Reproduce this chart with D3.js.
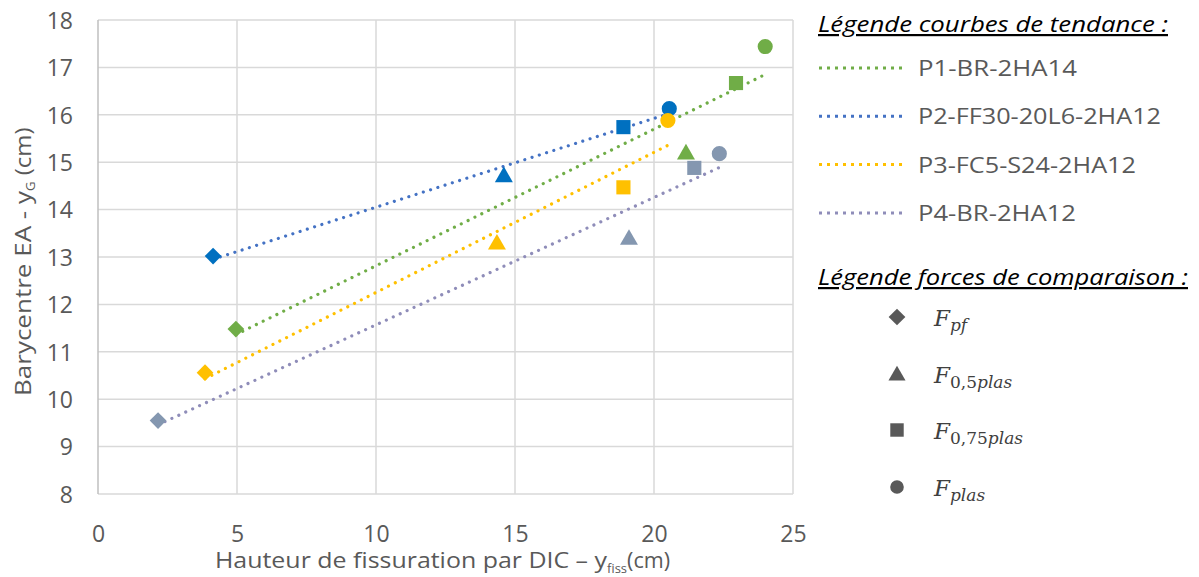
<!DOCTYPE html>
<html><head><meta charset="utf-8">
<script src="https://cdn.jsdelivr.net/npm/d3@7"></script>
<style>body{margin:0;background:#fff}svg{display:block}</style>
</head><body>
<svg id="c" width="1199" height="577"></svg>
<script>
// ---- data ----
const seriesNames = ["P1-BR-2HA14","P2-FF30-20L6-2HA12","P3-FC5-S24-2HA12","P4-BR-2HA12"];
const forceNames = ["pf","0,5plas","0,75plas","plas"];
const forceShapes = ["diamond","triangle","square","circle"];
// x = y_fiss (cm), y = y_G (cm), order: Fpf, F0.5plas, F0.75plas, Fplas
const p1X = [4.96, 21.15, 22.95, 24.0];
const p1Y = [11.48, 15.2, 16.67, 17.44];
const p2X = [4.14, 14.6, 18.9, 20.55];
const p2Y = [13.02, 14.72, 15.74, 16.13];
const p3X = [3.85, 14.35, 18.9, 20.5];
const p3Y = [10.56, 13.3, 14.47, 15.88];
const p4X = [2.16, 19.1, 21.45, 22.35];
const p4Y = [9.55, 13.4, 14.88, 15.18];
const markerColors = ["#70AD47","#0070C0","#FFC000","#8497B0"];
const trendColors = ["#70AD47","#4472C4","#FFC000","#8F8DB9"];
const xTicks = [0,5,10,15,20,25];
const yTicks = [8,9,10,11,12,13,14,15,16,17,18];

const seriesX = [p1X,p2X,p3X,p4X];
const seriesY = [p1Y,p2Y,p3Y,p4Y];

const svg = d3.select("#c");
const x = d3.scaleLinear().domain([0,25]).range([98,793]);
const y = d3.scaleLinear().domain([8,18]).range([494,20]);
const txt = "#595959";
const font = "'Open Sans', sans-serif";

// grid
svg.append("g").selectAll("line").data(yTicks).join("line")
  .attr("x1",x(0)).attr("x2",x(25)).attr("y1",d=>y(d)).attr("y2",d=>y(d))
  .attr("stroke","#D9D9D9").attr("stroke-width",1.5);
svg.append("g").selectAll("line").data(xTicks).join("line")
  .attr("y1",y(8)).attr("y2",y(18)).attr("x1",d=>x(d)).attr("x2",d=>x(d))
  .attr("stroke",d=>d===0?"#BFBFBF":"#D9D9D9").attr("stroke-width",1.5);

// axes (labels only)
const xAxis = svg.append("g").attr("transform",`translate(0,${y(8)})`)
  .call(d3.axisBottom(x).tickValues(xTicks).tickSize(0).tickPadding(14));
const yAxis = svg.append("g").attr("transform",`translate(${x(0)},0)`)
  .call(d3.axisLeft(y).tickValues(yTicks).tickSize(0).tickPadding(25));
[xAxis,yAxis].forEach(a=>{
  a.select(".domain").remove();
  a.selectAll("text").attr("font-family",font).attr("font-size",23).attr("fill",txt);
});
xAxis.selectAll("text").attr("y",48).attr("dy",0);
yAxis.selectAll("text").attr("dy","0.36em");

// axis titles
const xt = svg.append("text").attr("x",215).attr("y",568)
  .attr("font-family",font).attr("font-size",21).attr("fill",txt);
xt.append("tspan").attr("textLength",392).attr("lengthAdjust","spacingAndGlyphs").text("Hauteur de fissuration par DIC – y");
xt.append("tspan").attr("font-size",13).attr("dy",5).text("fiss");
xt.append("tspan").attr("dy",-5).attr("textLength",43).attr("lengthAdjust","spacingAndGlyphs").text("(cm)");

const yt = svg.append("text").attr("transform","translate(31,396) rotate(-90)")
  .attr("font-family",font).attr("font-size",21).attr("fill",txt);
yt.append("tspan").attr("textLength",205).attr("lengthAdjust","spacingAndGlyphs").text("Barycentre EA - y");
yt.append("tspan").attr("font-size",13).attr("dy",4).text("G");
yt.append("tspan").attr("dy",-4).attr("textLength",54).attr("lengthAdjust","spacingAndGlyphs").text(" (cm)");

// trend lines (least squares)
seriesNames.forEach((n,i)=>{
  const xs = seriesX[i], ys = seriesY[i];
  const mx = d3.mean(xs), my = d3.mean(ys);
  const b = d3.sum(xs,(v,k)=>(v-mx)*(ys[k]-my))/d3.sum(xs,v=>(v-mx)*(v-mx));
  const a = my - b*mx;
  const [x0,x1] = d3.extent(xs);
  svg.append("line").attr("x1",x(x0)).attr("x2",x(x1)).attr("y1",y(a+b*x0)).attr("y2",y(a+b*x1))
    .attr("stroke",trendColors[i]).attr("stroke-width",3.2)
    .attr("stroke-dasharray","0.01 7.6").attr("stroke-linecap","round");
});

// markers
const symType = {diamond:d3.symbolDiamond2, triangle:d3.symbolTriangle, square:d3.symbolSquare, circle:d3.symbolCircle};
const symSize = {diamond:150, triangle:140, square:200, circle:180};
function sym(shape){
  if(shape==="diamond") return d3.symbol(d3.symbolSquare, 140)();
  return d3.symbol(symType[shape], symSize[shape])();
}
seriesNames.forEach((n,i)=>{
  seriesX[i].forEach((xv,k)=>{
    const sh = forceShapes[k];
    svg.append("path").attr("d",sym(sh))
      .attr("transform",`translate(${x(xv)},${y(seriesY[i][k])})${sh==="diamond"?" rotate(45)":""}${sh==="triangle"?" translate(0,1.5)":""}`)
      .attr("fill",markerColors[i]);
  });
});

// legend: trend lines
function title(t,yy,len){
  svg.append("text").attr("x",818).attr("y",yy).attr("font-family",font).attr("font-style","italic")
    .attr("font-size",22).attr("fill","#000").attr("text-decoration","underline")
    .attr("textLength",len).attr("lengthAdjust","spacingAndGlyphs").text(t);
}
title("Légende courbes de tendance :",32,350);
const legLens = [159,243,218,158];
seriesNames.forEach((n,i)=>{
  const yy = 68 + i*48.3;
  svg.append("line").attr("x1",819).attr("x2",907).attr("y1",yy).attr("y2",yy)
    .attr("stroke",trendColors[i]).attr("stroke-width",3)
    .attr("stroke-dasharray","3 5");
  svg.append("text").attr("x",918).attr("y",yy+8).attr("font-family",font).attr("font-size",22)
    .attr("fill",txt).attr("textLength",legLens[i]).attr("lengthAdjust","spacingAndGlyphs").text(n);
});
title("Légende forces de comparaison :",285,370);

// legend: forces
const legY = [317,374,430,487];
forceNames.forEach((f,k)=>{
  const yy = legY[k];
  const sh = forceShapes[k];
  svg.append("path").attr("d",sym(sh))
    .attr("transform",`translate(897,${yy})${sh==="diamond"?" rotate(45)":""}${sh==="triangle"?" translate(0,1.5) scale(0.95)":""}${sh==="square"?" scale(0.95)":""}${sh==="circle"?" scale(0.9)":""}`)
    .attr("fill","#595959");
  const t = svg.append("text").attr("x",934).attr("y",yy+9).attr("font-family","'DejaVu Serif', serif")
    .attr("font-style","italic").attr("font-size",23).attr("fill","#404040");
  t.append("tspan").text("F");
  const sub = f.split(/(\d[\d,]*)/).filter(s=>s);
  let first = true;
  sub.forEach(s=>{
    const ts = t.append("tspan").attr("font-size",17).text(s);
    if(first){ ts.attr("dy",5); first=false; }
    if(/\d/.test(s)) ts.attr("font-style","normal");
  });
});
</script>
</body></html>
